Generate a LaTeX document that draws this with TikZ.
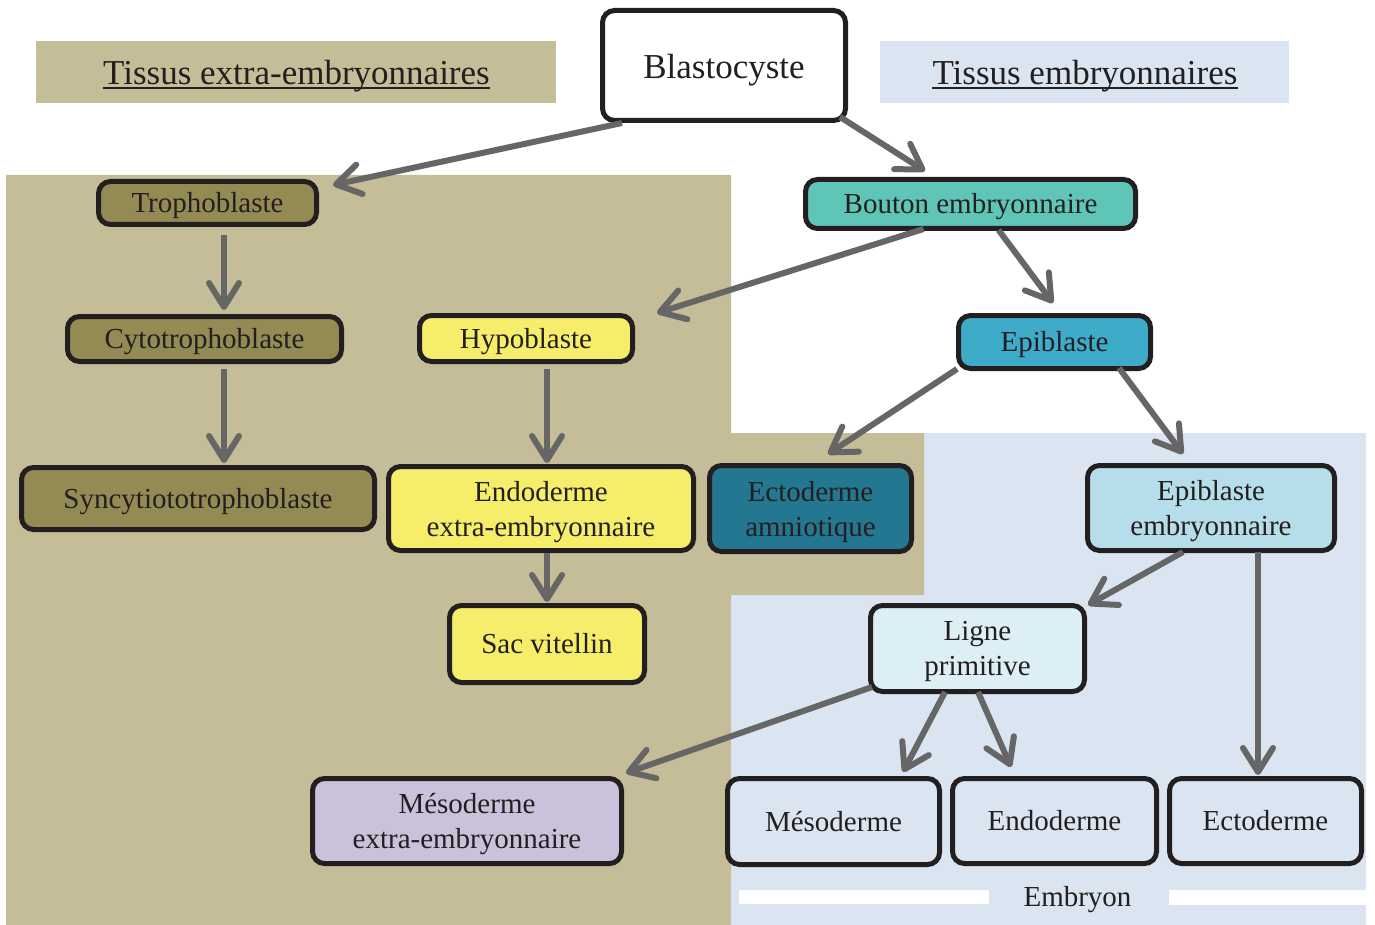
\documentclass[tikz,border=0pt]{standalone}
\usepackage{fontspec}
\setmainfont{Liberation Serif}
\usepackage{xcolor}
\usetikzlibrary{arrows.meta}
\definecolor{ink}{HTML}{231F20}
\definecolor{tanbg}{HTML}{C4BD97}
\definecolor{olive}{HTML}{948A54}
\definecolor{yel}{HTML}{F6EE6A}
\definecolor{teal}{HTML}{5FC5B7}
\definecolor{epiblue}{HTML}{3EABC8}
\definecolor{amnteal}{HTML}{247790}
\definecolor{epiemb}{HTML}{B6DEEA}
\definecolor{lignec}{HTML}{DCEFF5}
\definecolor{lav}{HTML}{CBC1DA}
\definecolor{bluebg}{HTML}{DBE5F1}
\definecolor{arrgray}{HTML}{666666}

\begin{document}
\begin{tikzpicture}[x=1pt,y=1pt,
 box/.style={draw=ink,line width=5pt,rounded corners=12pt,inner sep=0pt,align=center,text=ink,font=\fontsize{29}{35}\selectfont},
 one/.style={text height=19pt,text depth=0pt},
 two/.style={text depth=0pt},
 head/.style={inner sep=0pt,text=ink,font=\fontsize{35}{40}\selectfont,text height=23pt,text depth=0pt},
 arr/.style={draw=arrgray,line width=6pt,-{Straight Barb[length=24pt,width=30pt,round]}}]
 \useasboundingbox (0,0) rectangle (1375,-925);
 \path[fill=white] (0,0) rectangle (1375,-925);

 % backgrounds
 \path[fill=bluebg] (731,-433) rectangle (1366,-925);
 \path[fill=tanbg] (6,-175)--(731,-175)--(731,-433)--(924,-433)--(924,-595)--(731,-595)--(731,-925)--(6,-925)--cycle;
 \path[fill=white] (739,-890) rectangle (989,-904);
 \path[fill=white] (1169,-890) rectangle (1366,-905);
 \path[fill=tanbg] (36,-41) rectangle (556,-103);
 \path[fill=bluebg] (880,-41) rectangle (1289,-103);

 \node[head] (hdext) at (296.5,-73) {Tissus extra-embryonnaires};
 \node[head] (hdemb) at (1085,-73) {Tissus embryonnaires};
 \draw[ink,line width=2pt] ([yshift=-4pt]hdext.base west)--([yshift=-4pt]hdext.base east);
 \draw[ink,line width=2pt] ([yshift=-4pt]hdemb.base west)--([yshift=-4pt]hdemb.base east);
 \node[head,text height=19pt,font=\fontsize{29}{35}\selectfont] (embryon) at (1077.5,-897) {Embryon};

 % boxes
 \node[box,one,fill=white,font=\fontsize{35}{40}\selectfont,text height=26pt,minimum width=243pt,minimum height=110pt] (blast) at (724,-65.5) {Blastocyste};

 \node[box,one,fill=olive,minimum width=218pt,minimum height=43pt] (troph) at (207.5,-203) {Trophoblaste};
 \node[box,one,fill=olive,minimum width=274pt,minimum height=45pt] (cyto) at (204.5,-339) {Cytotrophoblaste};
 \node[box,one,fill=olive,minimum width=353pt,minimum height=62pt] (sync) at (198,-498.5) {Syncytiototrophoblaste};

 \node[box,one,fill=yel,minimum width=213pt,minimum height=46pt] (hypo) at (526,-338.5) {Hypoblaste};
 \node[box,two,fill=yel,minimum width=305pt,minimum height=84pt] (endoext) at (541,-508.5) {Endoderme\\extra-embryonnaire};
 \node[box,one,fill=yel,minimum width=195pt,minimum height=77pt] (sac) at (547,-644) {Sac vitellin};

 \node[box,one,fill=teal,minimum width=330pt,minimum height=49pt] (bouton) at (970.5,-204) {Bouton embryonnaire};
 \node[box,one,fill=epiblue,minimum width=192pt,minimum height=53pt] (epi) at (1054.5,-342) {Epiblaste};
 \node[box,two,fill=amnteal,minimum width=202pt,minimum height=86pt] (ectoamn) at (810.5,-508.5) {Ectoderme\\amniotique};
 \node[box,two,fill=epiemb,minimum width=247pt,minimum height=85pt] (epiemb) at (1211,-508) {Epiblaste\\embryonnaire};
 \node[box,two,fill=lignec,minimum width=214pt,minimum height=86pt] (ligne) at (977.5,-648.5) {Ligne\\primitive};

 \node[box,two,fill=lav,minimum width=309pt,minimum height=85pt] (mesoext) at (467,-821) {Mésoderme\\extra-embryonnaire};
 \node[box,one,fill=bluebg,minimum width=212pt,minimum height=86pt] (meso) at (833.5,-821.5) {Mésoderme};
 \node[box,one,fill=bluebg,minimum width=204pt,minimum height=85pt] (endo) at (1054.5,-821) {Endoderme};
 \node[box,one,fill=bluebg,minimum width=192pt,minimum height=85pt] (ecto) at (1265.5,-821) {Ectoderme};

 % arrows
 \draw[arr] ([xshift=22pt]blast.south west)--([shift={(14pt,-6pt)}]troph.north east);
 \draw[arr] ([shift={(-8pt,6pt)}]blast.south east)--([shift={(122pt,6pt)}]bouton.north west);
 \draw[arr] ([shift={(16.5pt,-8pt)}]troph.south)--([shift={(19.5pt,4pt)}]cyto.north);
 \draw[arr] ([shift={(19.5pt,-5pt)}]cyto.south)--([shift={(26pt,2pt)}]sync.north);
 \draw[arr] ([shift={(-47pt,2pt)}]bouton.south)--([shift={(22pt,0pt)}]hypo.north east);
 \draw[arr] ([shift={(28pt,1pt)}]bouton.south)--([shift={(-1.5pt,10pt)}]epi.north);
 \draw[arr] ([shift={(21pt,-5pt)}]hypo.south)--([shift={(6pt,1pt)}]endoext.north);
 \draw[arr] ([xshift=6pt]endoext.south)--([yshift=1pt]sac.north);
 \draw[arr] ([shift={(1pt,2pt)}]epi.south west)--([shift={(17.5pt,9pt)}]ectoamn.north);
 \draw[arr] ([shift={(-34pt,3pt)}]epi.south east)--([shift={(-28pt,9pt)}]epiemb.north);
 \draw[arr] ([shift={(-28pt,1pt)}]epiemb.south)--([shift={(1pt,-2pt)}]ligne.north east);
 \draw[arr] ([shift={(47pt,1pt)}]epiemb.south)--([shift={(-7.5pt,1pt)}]ecto.north);
 \draw[arr] ([shift={(4pt,7pt)}]ligne.south west)--([shift={(2pt,3pt)}]mesoext.north east);
 \draw[arr] ([shift={(-32.5pt,2pt)}]ligne.south)--([shift={(69.5pt,4pt)}]meso.north);
 \draw[arr] ([shift={(0.5pt,2pt)}]ligne.south)--([shift={(-43.5pt,9pt)}]endo.north);

 %%%%%%%%%%%%%%%%%%%%%%%%%%%%%%%%%%%
\end{tikzpicture}
\end{document}
